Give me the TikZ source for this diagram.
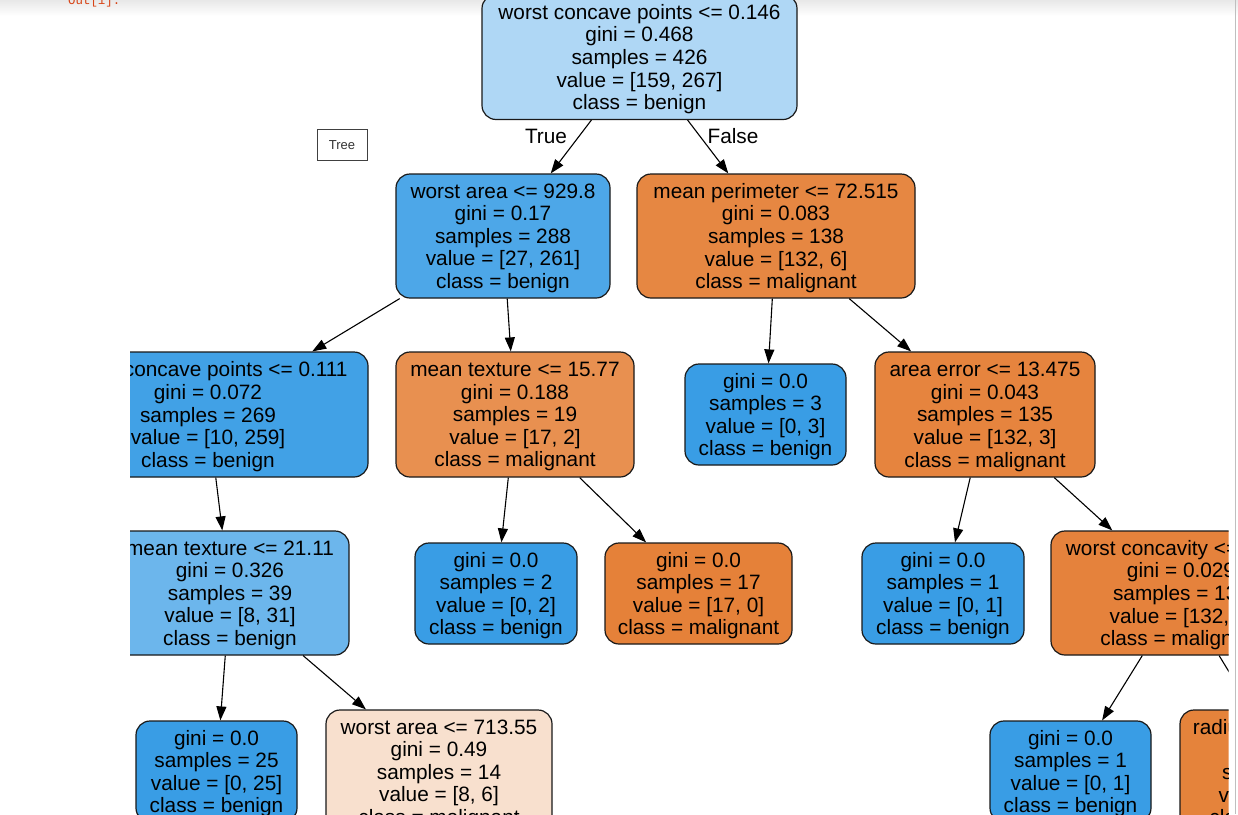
\documentclass[tikz,border=0pt]{standalone}
\usepackage{fontspec}
\setmainfont{Liberation Sans}
\newfontfamily\monof{Liberation Mono}
\usetikzlibrary{arrows.meta}
\definecolor{c0}{RGB}{175,215,245}
\definecolor{c2}{RGB}{77,167,232}
\definecolor{c3}{RGB}{230,135,66}
\definecolor{c4}{RGB}{65,161,230}
\definecolor{c5}{RGB}{232,144,80}
\definecolor{cB}{RGB}{57,157,229}
\definecolor{cM}{RGB}{229,129,57}
\definecolor{c7}{RGB}{230,132,62}
\definecolor{c8}{RGB}{108,182,236}
\definecolor{c12}{RGB}{229,130,60}
\definecolor{c14}{RGB}{248,224,206}
\definecolor{c16}{RGB}{229,131,59}
\definecolor{outred}{RGB}{216,67,21}
\tikzset{
  tn/.style={draw=black!90, line width=1.2pt, rounded corners=14pt, inner sep=0pt,
    minimum height=124pt},
  lf/.style={tn, minimum height=101pt, minimum width=161pt},
  tx/.style={align=center, inner sep=0pt, yshift=-2.2pt, font=\fontsize{20.8}{22.6}\selectfont},
  edge/.style={line width=1.1pt, -{Triangle[length=14pt,width=10pt]}},
  elab/.style={font=\fontsize{20.8}{22.6}\selectfont}
}
\begin{document}
\begin{tikzpicture}[x=1pt,y=-1pt]
\useasboundingbox (0,0) rectangle (1238,814);
\fill[white] (0,0) rectangle (1238,814);
\shade[top color=black!9, bottom color=white] (0,0) rectangle (1238,16);
\node[anchor=base west, font=\monof\fontsize{12.4}{14}\selectfont, text=outred, inner sep=0pt] (out) at (68,4) {Out[1]:};
\node[draw=black!75, line width=0.8pt, minimum width=50pt, minimum height=31pt, inner sep=0pt,
  font=\fontsize{13}{15}\selectfont, text=black!80] (tree) at (342,145) {Tree};
\draw[black!25, line width=1.4pt] (1235.5,0) -- (1235.5,814);
\begin{scope}
\clip (130,0) rectangle (1228.5,814);
\node[tn, fill=c0, minimum width=315pt, minimum height=125pt, label={[tx]center:{worst concave points <= 0.146\\gini = 0.468\\samples = 426\\value = [159, 267]\\class = benign}}] (n0) at (639.5,57) {};
\node[tn, fill=c2, minimum width=214pt, label={[tx]center:{worst area <= 929.8\\gini = 0.17\\samples = 288\\value = [27, 261]\\class = benign}}] (n1) at (503,236) {};
\node[tn, fill=c3, minimum width=278pt, label={[tx]center:{mean perimeter <= 72.515\\gini = 0.083\\samples = 138\\value = [132, 6]\\class = malignant}}] (n2) at (776,236) {};
\node[tn, fill=c4, minimum width=320pt, minimum height=125pt, label={[tx]center:{worst concave points <= 0.111\\gini = 0.072\\samples = 269\\value = [10, 259]\\class = benign}}] (n3) at (208,414.5) {};
\node[tn, fill=c5, minimum width=238pt, minimum height=125pt, label={[tx]center:{mean texture <= 15.77\\gini = 0.188\\samples = 19\\value = [17, 2]\\class = malignant}}] (n4) at (515,414.5) {};
\node[lf, fill=cB, label={[tx]center:{gini = 0.0\\samples = 3\\value = [0, 3]\\class = benign}}] (n5) at (765.5,414.5) {};
\node[tn, fill=c7, minimum width=220pt, minimum height=125pt, label={[tx]center:{area error <= 13.475\\gini = 0.043\\samples = 135\\value = [132, 3]\\class = malignant}}] (n6) at (985,414.5) {};
\node[tn, fill=c8, minimum width=238pt, label={[tx]center:{mean texture <= 21.11\\gini = 0.326\\samples = 39\\value = [8, 31]\\class = benign}}] (n7) at (230,593) {};
\node[lf, fill=cB, minimum width=162pt, label={[tx]center:{gini = 0.0\\samples = 2\\value = [0, 2]\\class = benign}}] (n8) at (496,593.5) {};
\node[lf, fill=cM, minimum width=187pt, label={[tx]center:{gini = 0.0\\samples = 17\\value = [17, 0]\\class = malignant}}] (n9) at (698.5,593.5) {};
\node[lf, fill=cB, minimum width=162pt, label={[tx]center:{gini = 0.0\\samples = 1\\value = [0, 1]\\class = benign}}] (n10) at (943,593.5) {};
\node[tn, fill=c12, minimum width=260pt, label={[tx]center:{worst concavity <= 0.193\\gini = 0.029\\samples = 134\\value = [132, 2]\\class = malignant}}] (n11) at (1181,593) {};
\node[lf, fill=cB, label={[tx]center:{gini = 0.0\\samples = 25\\value = [0, 25]\\class = benign}}] (n12) at (216.5,771.5) {};
\node[tn, fill=c14, minimum width=226pt, label={[tx]center:{worst area <= 713.55\\gini = 0.49\\samples = 14\\value = [8, 6]\\class = malignant}}] (n13) at (439,772) {};
\node[lf, fill=cB, label={[tx]center:{gini = 0.0\\samples = 1\\value = [0, 1]\\class = benign}}] (n14) at (1070.5,771.5) {};
\node[tn, fill=c16, minimum width=220pt, label={[tx]center:{radius error <= 0.626\\gini = 0.015\\samples = 133\\value = [132, 1]\\class = malignant}}] (n15) at (1290,772) {};
\draw[edge] (n0) -- (n1);
\draw[edge] (n0) -- (n2);
\draw[edge] (n1) -- (n3);
\draw[edge] (n1) -- (n4);
\draw[edge] (n2) -- (n5);
\draw[edge] (n2) -- (n6);
\draw[edge] (n3) -- (n7);
\draw[edge] (n4) -- (n8);
\draw[edge] (n4) -- (n9);
\draw[edge] (n6) -- (n10);
\draw[edge] (n6) -- (n11);
\draw[edge] (n7) -- (n12);
\draw[edge] (n7) -- (n13);
\draw[edge] (n11) -- (n14);
\draw[edge] (n11) -- (n15);
\node[elab] (tl) at (546,136) {True};
\node[elab] (fl) at (733,136) {False};
\end{scope}
\end{tikzpicture}
\end{document}
